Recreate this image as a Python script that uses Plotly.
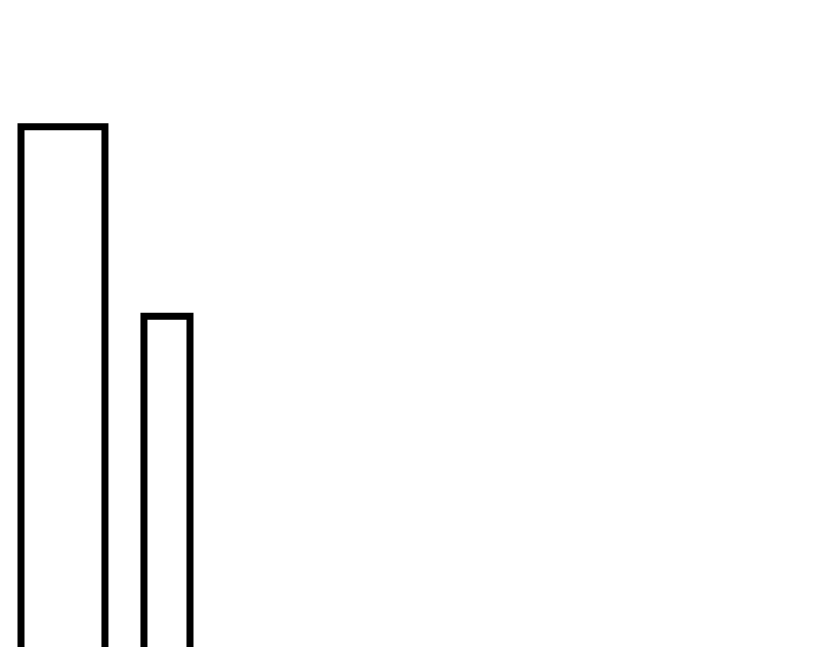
import plotly.graph_objects as go

# Data
categories = ["A", "B"]
values = [82.0, 53.3]

# Layout/positions (kept separate from data)
x_positions = [0.664, 1.920]
bar_widths = [1.014, 0.556]

fig = go.Figure(
    go.Bar(
        x=x_positions,
        y=values,
        width=bar_widths,
        text=categories,
        textposition="none",
        hoverinfo="skip",
        marker=dict(color="white", line=dict(color="black", width=7)),
    )
)

fig.update_layout(
    width=828,
    height=647,
    margin=dict(l=0, r=0, t=0, b=0),
    paper_bgcolor="white",
    plot_bgcolor="white",
    showlegend=False,
    xaxis=dict(range=[0, 10], visible=False, fixedrange=True),
    yaxis=dict(range=[2, 100], visible=False, fixedrange=True),
)

fig.write_html("out.html", config={"displayModeBar": False})
